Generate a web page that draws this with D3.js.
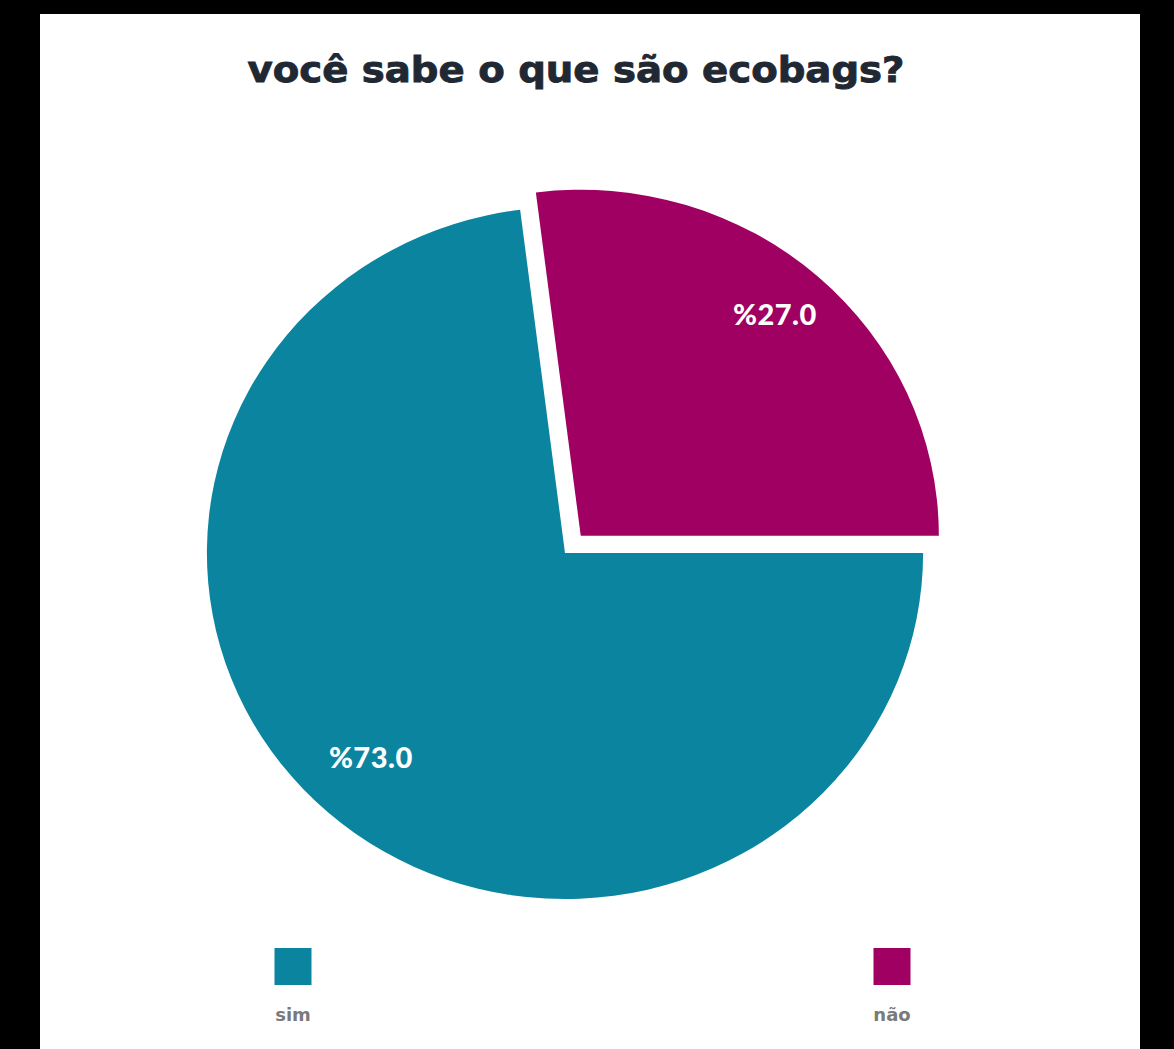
<!DOCTYPE html>
<html>
<head>
<meta charset="utf-8">
<script src="https://cdn.jsdelivr.net/npm/d3@7"></script>
<style>
  html, body { margin: 0; padding: 0; background: #000; }
  svg { display: block; }
</style>
</head>
<body>
<svg id="chart" width="1174" height="1049"></svg>
<script>
const title = "você sabe o que são ecobags?";
const categories = ["sim", "não"];
const values = [73.0, 27.0];
const colors = ["#0b859f", "#9f0061"];
const explode = [0, 23];

const svg = d3.select("#chart");
const W = 1174, H = 1049;

// white panel framed by black
svg.append("rect").attr("x", 40).attr("y", 14).attr("width", 1100).attr("height", H - 14).attr("fill", "#fff");

svg.append("text")
  .attr("x", 576).attr("y", 82)
  .attr("text-anchor", "middle")
  .attr("font-family", "'DejaVu Sans', sans-serif")
  .attr("font-weight", 700)
  .attr("font-size", 36)
  .attr("textLength", 657)
  .attr("lengthAdjust", "spacingAndGlyphs")
  .attr("fill", "#1f2833")
  .attr("stroke", "#1f2833")
  .attr("stroke-width", 0.9)
  .text(title);

const cx = 565, cy = 553, r = 346, sx = 1.035;
const data = categories.map((c, i) => ({ cat: c, value: values[i], color: colors[i], ex: explode[i] }));

const pie = d3.pie().sort(null).value(d => d.value)
  .startAngle(Math.PI / 2).endAngle(Math.PI / 2 + 2 * Math.PI);
const arcs = pie(data);
const arc = d3.arc().innerRadius(0).outerRadius(r);
const labelArc = d3.arc().innerRadius(r * 0.82).outerRadius(r * 0.82);

const g = svg.append("g").attr("transform", `translate(${cx},${cy}) scale(${sx},1)`);
g.selectAll("path").data(arcs).join("path")
  .attr("d", arc)
  .attr("fill", d => d.data.color)
  .attr("transform", d => {
    const mid = (d.startAngle + d.endAngle) / 2;
    return `translate(${Math.sin(mid) * d.data.ex},${-Math.cos(mid) * d.data.ex})`;
  });

svg.selectAll("text.lbl").data(arcs).join("text")
  .attr("class", "lbl")
  .attr("x", d => {
    const mid = (d.startAngle + d.endAngle) / 2;
    return cx + (labelArc.centroid(d)[0] + Math.sin(mid) * d.data.ex) * sx;
  })
  .attr("y", d => {
    const mid = (d.startAngle + d.endAngle) / 2;
    return cy + labelArc.centroid(d)[1] - Math.cos(mid) * d.data.ex;
  })
  .attr("dy", "0.08em")
  .attr("text-anchor", "middle")
  .attr("font-family", "Lato, 'Open Sans', sans-serif")
  .attr("font-weight", 900)
  .attr("font-size", 29)
  .attr("letter-spacing", 0.5)
  .attr("fill", "#fff")
  .text(d => "%" + d.data.value.toFixed(1));

// legend
const legendX = d3.scalePoint().domain(categories).range([293, 892]);
const lg = svg.selectAll("g.leg").data(data).join("g")
  .attr("class", "leg")
  .attr("transform", d => `translate(${legendX(d.cat)},0)`);
lg.append("rect").attr("x", -18.5).attr("y", 948).attr("width", 37).attr("height", 37)
  .attr("fill", d => d.color);
lg.append("text").attr("x", 0).attr("y", 1021)
  .attr("text-anchor", "middle")
  .attr("font-family", "'DejaVu Sans', sans-serif")
  .attr("font-weight", 700)
  .attr("font-size", 18)
  .attr("fill", "#7a7a7a")
  .text(d => d.cat);
</script>
</body>
</html>
